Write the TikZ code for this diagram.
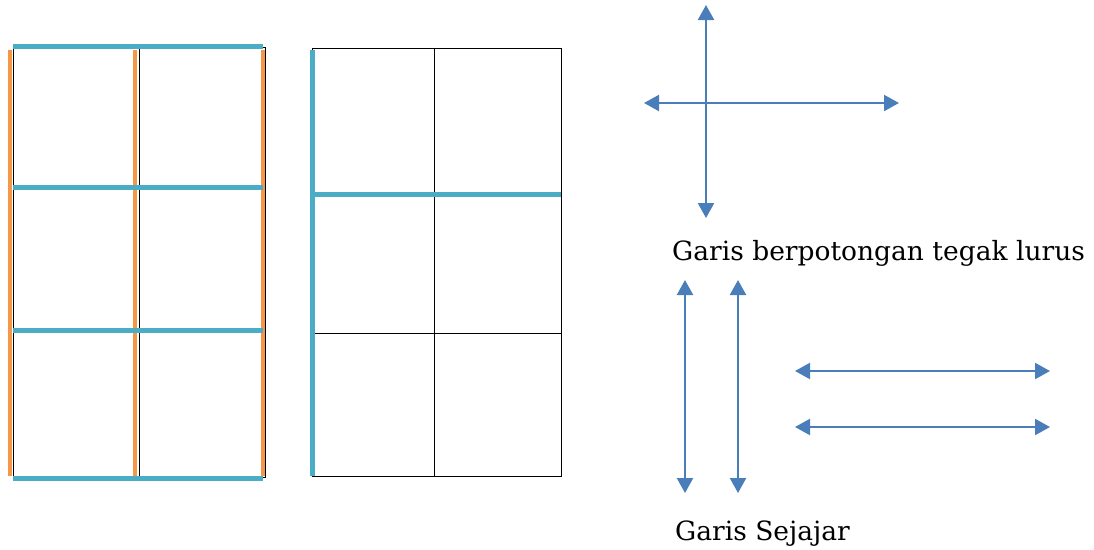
\documentclass[tikz,border=0pt]{standalone}
\usepackage{fontspec}
\setmainfont{DejaVu Serif}
\usetikzlibrary{arrows.meta}
\definecolor{gridblue}{HTML}{4BACC6}
\definecolor{gridorange}{HTML}{F79646}
\definecolor{arrowblue}{HTML}{4A7EBB}
\tikzset{
  thin grid/.style={draw=black, line width=1pt},
  blue edge/.style={draw=gridblue, line width=5pt},
  orange edge/.style={draw=gridorange, line width=4pt},
  dbl arrow/.style={draw=arrowblue, line width=2.2pt,
    {Triangle[length=15pt,width=16pt]}-{Triangle[length=15pt,width=16pt]}},
  caption/.style={anchor=west, font=\fontsize{26.5}{30}\selectfont, inner sep=0pt}
}
\begin{document}
\begin{tikzpicture}[x=1pt,y=-1pt]
\useasboundingbox (0,0) rectangle (1094,549);

% --- left grid: every side highlighted ---
\draw[thin grid] (13,47) rectangle (265,477);
\draw[thin grid] (139,47) -- (139,477);
\draw[thin grid] (13,188) -- (265,188);
\draw[thin grid] (13,331) -- (265,331);
\foreach \x in {10,135,263}
  \draw[orange edge] (\x,50) -- (\x,476);
\draw[blue edge] (13,46) -- (263,46);
\foreach \y in {187,330,478}
  \draw[blue edge] (13,\y) -- (263,\y);

% --- middle grid: one vertical and one horizontal side highlighted ---
\draw[thin grid] (312,48) rectangle (561,476);
\draw[thin grid] (434,48) -- (434,476);
\draw[thin grid] (312,192) -- (561,192);
\draw[thin grid] (312,333) -- (561,333);
\draw[blue edge] (312,50) -- (312,476);
\draw[blue edge] (312,194) -- (561,194);

% --- perpendicular lines ---
\coordinate (pT) at (706,5);
\coordinate (pB) at (706,218);
\coordinate (pL) at (644,103);
\coordinate (pR) at (899,103);
\draw[dbl arrow] (pT) -- (pB);
\draw[dbl arrow] (pL) -- (pR);
\node[caption] (perp) at (672,253) {Garis berpotongan tegak lurus};

% --- parallel lines ---
\coordinate (v1T) at (685,280);
\coordinate (v1B) at (685,493);
\coordinate (v2T) at (738,280);
\coordinate (v2B) at (738,493);
\coordinate (h1L) at (795,371);
\coordinate (h1R) at (1050,371);
\coordinate (h2L) at (795,427);
\coordinate (h2R) at (1050,427);
\draw[dbl arrow] (v1T) -- (v1B);
\draw[dbl arrow] (v2T) -- (v2B);
\draw[dbl arrow] (h1L) -- (h1R);
\draw[dbl arrow] (h2L) -- (h2R);
\node[caption] (para) at (675,534) {Garis Sejajar};
\end{tikzpicture}
\end{document}
